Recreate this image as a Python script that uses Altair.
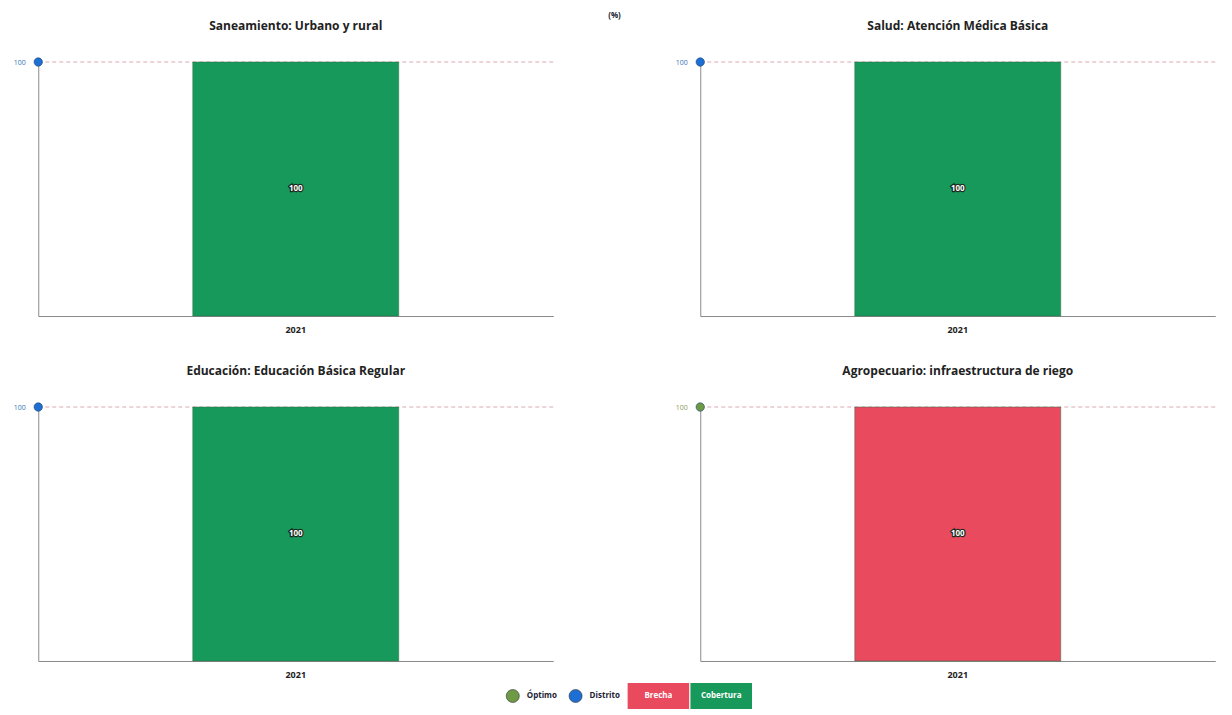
import altair as alt
import pandas as pd

# ---- data ----
titles = [
    "Saneamiento: Urbano y rural",
    "Salud: Atención Médica Básica",
    "Educación: Educación Básica Regular",
    "Agropecuario: infraestructura de riego",
]
years = ["2021", "2021", "2021", "2021"]
values = [100, 100, 100, 100]
bar_types = ["Cobertura", "Cobertura", "Cobertura", "Brecha"]
point_values = [100, 100, 100, 100]
point_types = ["Distrito", "Distrito", "Distrito", "Óptimo"]

legend_labels = ["Óptimo", "Distrito", "Brecha", "Cobertura"]
legend_kinds = ["point", "point", "rect", "rect"]

color_domain = ["Cobertura", "Brecha", "Distrito", "Óptimo"]
color_range = ["#17995c", "#ea4a5d", "#1d6fd3", "#6e9a45"]
label_colors = {"Distrito": "#3a6fb8", "Óptimo": "#8a9a5a"}

FONT = "Open Sans"
color_scale = alt.Scale(domain=color_domain, range=color_range)


def panel(i):
    df = pd.DataFrame({
        "year": [years[i]],
        "value": [values[i]],
        "tipo": [bar_types[i]],
        "pv": [point_values[i]],
        "ptipo": [point_types[i]],
    })
    base = alt.Chart(df)
    xenc = alt.X(
        "year:N", title=None,
        scale=alt.Scale(paddingInner=0.6, paddingOuter=0.3),
        axis=alt.Axis(labelAngle=0, ticks=False, domainColor="#8a8a8a",
                      labelFontSize=9, labelFont=FONT, labelFontWeight="bold",
                      labelColor="#222", labelPadding=9),
    )
    yscale = alt.Scale(domain=[0, 100])
    yaxis = alt.Axis(values=[100], ticks=False, grid=False, domainColor="#8a8a8a",
                     labelFontSize=7, labelFont=FONT,
                     labelColor=label_colors[point_types[i]], labelPadding=13)
    rule = base.mark_rule(color="#d9a9b2", strokeDash=[4, 3], strokeWidth=1).encode(
        y=alt.Y("pv:Q", title=None, scale=yscale, axis=yaxis)
    )
    bars = base.mark_bar(stroke="#2a6a40", strokeWidth=0.8, strokeOpacity=0.6).encode(
        x=xenc,
        y=alt.Y("value:Q", title=None, scale=yscale, axis=yaxis),
        color=alt.Color("tipo:N", scale=color_scale, legend=None),
    )
    halo = base.transform_calculate(mid="datum.value / 2").mark_text(
        font=FONT, fontSize=8, fontWeight="bold", color="#1b2a22",
        stroke="#1b2a22", strokeWidth=2.5
    ).encode(x=xenc, y=alt.Y("mid:Q", title=None, scale=yscale, axis=yaxis),
             text=alt.Text("value:Q"))
    label = base.transform_calculate(mid="datum.value / 2").mark_text(
        font=FONT, fontSize=8, fontWeight="bold", color="white"
    ).encode(x=xenc, y=alt.Y("mid:Q", title=None, scale=yscale, axis=yaxis),
             text=alt.Text("value:Q"))
    pts = base.mark_circle(size=70, opacity=1, stroke="#1a3f70", strokeWidth=0.6).encode(
        x=alt.value(0),
        y=alt.Y("pv:Q", title=None, scale=yscale, axis=yaxis),
        color=alt.Color("ptipo:N", scale=color_scale, legend=None),
    )
    return alt.layer(rule, bars, halo, label, pts).properties(
        width=515, height=254,
        title=alt.TitleParams(titles[i], fontSize=12, fontWeight="bold",
                              font=FONT, color="#222", offset=24),
    )


# ---- custom legend ----
leg = pd.DataFrame({"label": legend_labels, "kind": legend_kinds, "row": [""] * 4})
lx = alt.X("label:N", sort=legend_labels, title=None, axis=None,
           scale=alt.Scale(paddingInner=0.02, paddingOuter=0))
ly = alt.Y("row:N", title=None, axis=None)
leg_base = alt.Chart(leg)
leg_pts = leg_base.transform_filter("datum.kind == 'point'").mark_circle(
    size=170, opacity=1, stroke="#333", strokeWidth=0.6, xOffset=-20
).encode(
    x=lx, y=ly,
    color=alt.Color("label:N", scale=color_scale, legend=None),
)
leg_pt_text = leg_base.transform_filter("datum.kind == 'point'").mark_text(
    font=FONT, fontSize=8, fontWeight="bold", color="#223", align="left", dx=-6
).encode(x=lx, y=ly, text="label:N")
leg_rect = leg_base.transform_filter("datum.kind == 'rect'").mark_bar(
    opacity=1
).encode(
    x=lx, y=ly,
    color=alt.Color("label:N", scale=color_scale, legend=None),
)
leg_rect_text = leg_base.transform_filter("datum.kind == 'rect'").mark_text(
    font=FONT, fontSize=8, fontWeight="bold", color="white"
).encode(x=lx, y=ly, text="label:N")
legend_chart = alt.layer(leg_pts, leg_pt_text, leg_rect, leg_rect_text).properties(
    width=250, height=26
)

row1 = alt.hconcat(panel(0), panel(1), spacing=120)
row2 = alt.hconcat(panel(2), panel(3), spacing=120)
grid = alt.vconcat(row1, row2, spacing=30)

chart = alt.vconcat(grid, legend_chart, spacing=4, center=True).properties(
    title=alt.TitleParams("(%)", fontSize=8, font=FONT, fontWeight="bold",
                          color="#223", anchor="middle", offset=0),
    padding={"top": 3, "left": 5, "right": 5, "bottom": 0},
    background="white",
).configure_view(strokeWidth=0, stroke=None)

chart.save("out.html", embed_options={"renderer": "svg", "actions": False})
